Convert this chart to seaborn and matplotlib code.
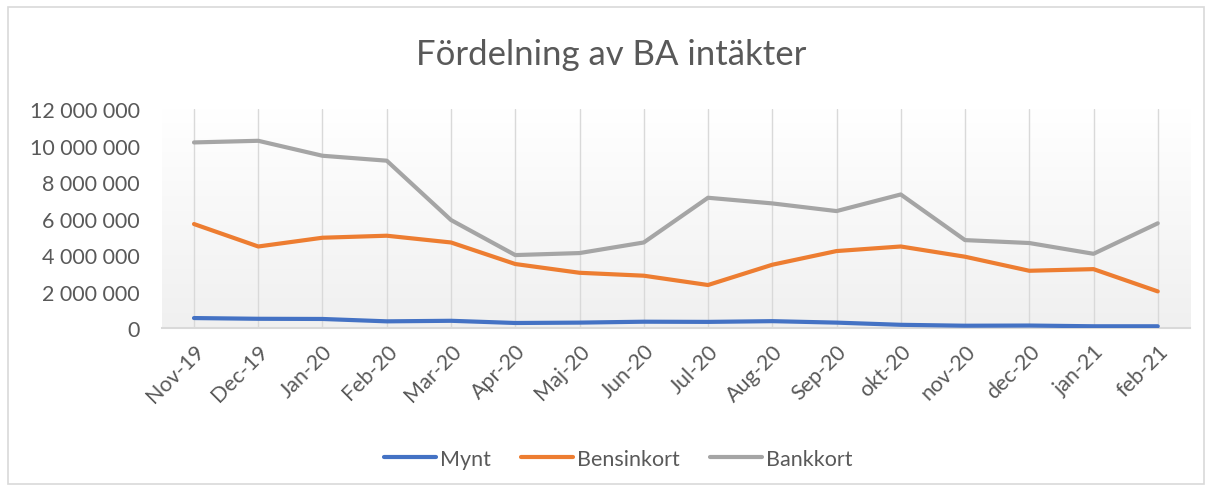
import matplotlib
matplotlib.use("Agg")
import matplotlib.pyplot as plt
import matplotlib.patches as mpatches
import matplotlib.ticker as mticker
import numpy as np
import pandas as pd
import seaborn as sns

# ── Data ────────────────────────────────────────────────────────────────────
months = ["Nov-19", "Dec-19", "Jan-20", "Feb-20", "Mar-20", "Apr-20", "Maj-20",
          "Jun-20", "Jul-20", "Aug-20", "Sep-20", "okt-20", "nov-20", "dec-20",
          "jan-21", "feb-21"]
mynt = [550_000, 510_000, 500_000, 370_000, 400_000, 280_000, 300_000, 350_000,
        340_000, 380_000, 300_000, 180_000, 130_000, 140_000, 100_000, 100_000]
bensinkort = [5_700_000, 4_470_000, 4_950_000, 5_060_000, 4_690_000, 3_510_000,
              3_030_000, 2_870_000, 2_360_000, 3_470_000, 4_220_000, 4_470_000,
              3_910_000, 3_140_000, 3_230_000, 2_010_000]
bankkort = [10_170_000, 10_260_000, 9_440_000, 9_170_000, 5_920_000, 4_000_000,
            4_110_000, 4_690_000, 7_140_000, 6_830_000, 6_410_000, 7_320_000,
            4_820_000, 4_660_000, 4_070_000, 5_740_000]

series = {"Mynt": mynt, "Bensinkort": bensinkort, "Bankkort": bankkort}
colors = {"Mynt": "#4472C4", "Bensinkort": "#ED7D31", "Bankkort": "#A5A5A5"}

df = pd.concat(
    [pd.DataFrame({"Månad": months, "Belopp": v, "Serie": k}) for k, v in series.items()],
    ignore_index=True,
)

sns.set_style("white")
plt.rcParams["font.family"] = ["Lato", "DejaVu Sans"]
text_col = "#595959"

fig = plt.figure(figsize=(12.08, 4.89), dpi=100)
ax = fig.add_axes([0.134, 0.327, 0.851, 0.448])

# plot-area gradient (white at top -> light grey at bottom)
grad = np.linspace(1.0, 0.0, 256).reshape(-1, 1)
ax.imshow(grad, cmap=matplotlib.colors.LinearSegmentedColormap.from_list(
    "bg", ["#f0f0f0", "#ffffff"]), aspect="auto",
    extent=(-0.5, len(months) - 0.5, 0, 12_000_000), zorder=0, vmin=0, vmax=1)

sns.lineplot(data=df, x="Månad", y="Belopp", hue="Serie", palette=colors,
             linewidth=3, sort=False, ax=ax, zorder=3, legend=False)

ax.set_xlim(-0.5, len(months) - 0.5)
ax.set_ylim(0, 12_000_000)
ax.yaxis.set_major_locator(mticker.MultipleLocator(2_000_000))
ax.yaxis.set_major_formatter(mticker.FuncFormatter(
    lambda v, _: f"{int(v):,}".replace(",", " ")))
ax.set_xticks(range(len(months)))
ax.set_xticklabels(months, rotation=45, ha="right", rotation_mode="anchor")
ax.tick_params(axis="both", length=0, labelsize=15.5, labelcolor=text_col)
ax.tick_params(axis="x", pad=9)
ax.tick_params(axis="y", pad=16)

for i in range(len(months)):
    ax.axvline(i, color="#d9d9d9", linewidth=1.0, zorder=1)

for s in ["top", "right", "left"]:
    ax.spines[s].set_visible(False)
ax.spines["bottom"].set_color("#d9d9d9")
ax.spines["bottom"].set_linewidth(1.5)
ax.set_xlabel("")
ax.set_ylabel("")

fig.text(0.506, 0.887, "Fördelning av BA intäkter", ha="center", va="center",
         fontsize=25, color=text_col)

handles = [plt.Line2D([], [], color=colors[k], linewidth=3) for k in series]
fig.legend(handles, list(series), loc="center", bbox_to_anchor=(0.512, 0.06),
           ncol=3, frameon=False, fontsize=15.5, labelcolor=text_col,
           handlelength=2.4, columnspacing=1.4, handletextpad=0.2)

# thin chart border
fig.patches.append(mpatches.Rectangle((0.007, 0.008), 0.99, 0.975,
                                      transform=fig.transFigure, fill=False,
                                      edgecolor="#d9d9d9", linewidth=1.2))

fig.savefig("out.png", dpi=100)
